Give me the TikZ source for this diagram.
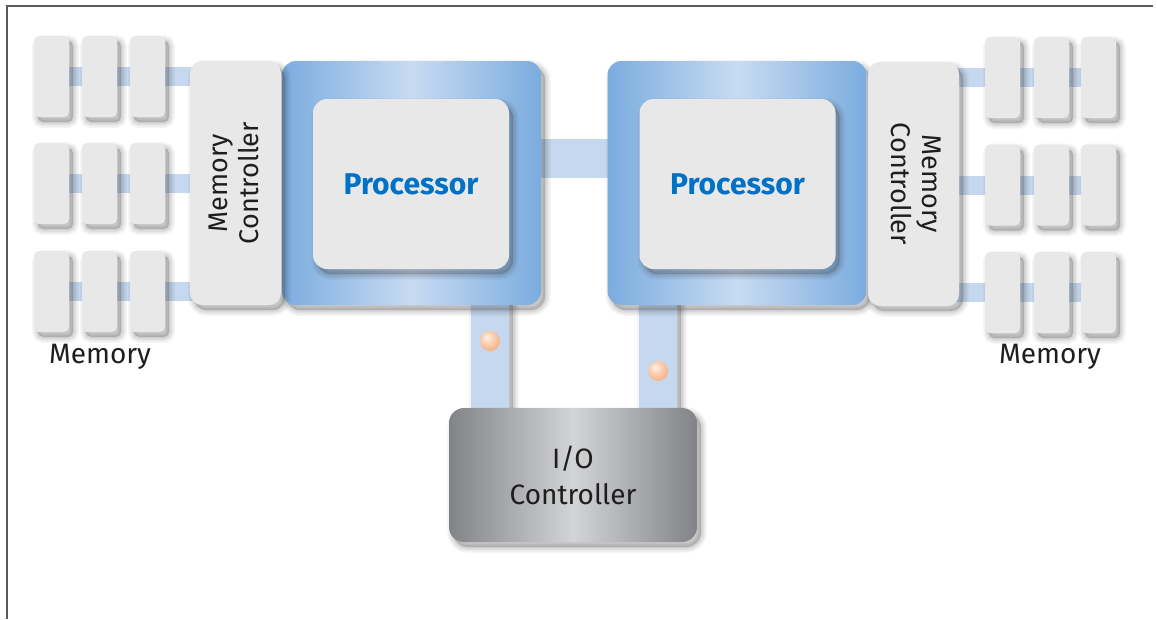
\documentclass[tikz,border=0pt]{standalone}
\usepackage{fontspec}
\setmainfont{Fira Sans}
\usetikzlibrary{calc}
\pgfdeclarelayer{bottom}
\pgfdeclarelayer{background}
\pgfsetlayers{bottom,background,main}
\definecolor{memgray}{HTML}{E8E8E8}
\definecolor{barblue}{HTML}{C5D8EF}
\definecolor{procedge}{HTML}{7BACDF}
\definecolor{procmid}{HTML}{C8DBF2}
\definecolor{intelblue}{HTML}{0071C5}
\definecolor{ioedge}{HTML}{828387}
\definecolor{iomid}{HTML}{D3D4D6}
\definecolor{txt}{HTML}{1E1E1E}
\definecolor{frame}{HTML}{5A5A5A}
\definecolor{peach}{HTML}{F6A46A}
\definecolor{shadowc}{HTML}{303030}
\pgfdeclareradialshading{peachball}{\pgfpoint{-8bp}{10bp}}{%
  color(0bp)=(white!85!peach); color(12bp)=(peach!45); color(30bp)=(peach!85); color(50bp)=(peach!95); color(60bp)=(peach)}
\tikzset{
  shl/.style={preaction={draw=shadowc,opacity=#1,transform canvas={xshift=4pt,yshift=-5pt}}},
  softshadow/.style={
    preaction={fill=shadowc,opacity=.22,transform canvas={xshift=4pt,yshift=-5pt}},
    preaction={draw=shadowc,opacity=.07,line width=3pt,transform canvas={xshift=4pt,yshift=-5pt}},
    preaction={draw=shadowc,opacity=.06,line width=6pt,transform canvas={xshift=4pt,yshift=-5pt}},
    preaction={draw=shadowc,opacity=.05,line width=9pt,transform canvas={xshift=4pt,yshift=-5pt}},
    preaction={draw=shadowc,opacity=.04,line width=12pt,transform canvas={xshift=4pt,yshift=-5pt}}},
  membox/.style={fill=memgray,rounded corners=5pt,minimum width=35pt,minimum height=81pt,inner sep=0pt,softshadow},
  mcbox/.style={fill=memgray,rounded corners=12pt,minimum width=91pt,minimum height=244pt,inner sep=0pt,softshadow,
     font=\fontsize{27}{35}\selectfont,text=txt,align=center},
  procouter/.style={rounded corners=14pt,minimum width=259pt,minimum height=244pt,inner sep=0pt,
     left color=procedge,right color=procedge,middle color=procmid,softshadow},
  procinner/.style={fill=memgray,rounded corners=14pt,minimum width=196pt,minimum height=170pt,inner sep=0pt,softshadow,
     font=\fontsize{30}{36}\selectfont\bfseries,text=intelblue},
  iobox/.style={rounded corners=15pt,minimum width=248pt,minimum height=134pt,inner sep=0pt,
     left color=ioedge,right color=ioedge,middle color=iomid,softshadow,
     font=\fontsize{28}{36}\selectfont,text=txt,align=center},
  hbar/.style={draw=barblue,line width=19pt},
  busbar/.style={draw=barblue,line width=39pt},
  vlink/.style={fill=barblue},
  ballnode/.style={circle,inner sep=0pt,minimum size=20pt,shading=peachball},
  memlabel/.style={font=\fontsize{28}{30}\selectfont,text=txt},
}
\begin{document}
\begin{tikzpicture}[x=1pt,y=-1pt]
\useasboundingbox (0,0) rectangle (1157,619);
\begin{pgfonlayer}{bottom}
\fill[white] (0,0) rectangle (1157,619);
\end{pgfonlayer}
\draw[frame,line width=1.5pt] (7,619) -- (7,6) -- (1153,6);

% memory modules left
\foreach \r/\y in {1/76.5,2/183.5,3/291.5}{
  \foreach \c/\x in {1/51.5,2/99.5,3/147.5}{
    \node[membox] (L\r\c) at (\x,\y) {};
  }
}
% memory modules right
\foreach \r/\y in {1/77.5,2/185,3/292.5}{
  \foreach \c/\x in {1/1002.5,2/1051.5,3/1098.5}{
    \node[membox] (R\r\c) at (\x,\y) {};
  }
}

% processors
\node[procouter] (pL) at (411.5,183) {};
\node[procouter] (pR) at (737,183) {};
\node[procinner] (piL) at (411,184) {Processor};
\node[procinner] (piR) at (737.5,184) {Processor};

% memory controllers
\node[mcbox] (mcL) at (235.5,183) {\rotatebox{90}{\begin{tabular}{@{}c@{}}Memory\\[-4pt]Controller\end{tabular}}};
\node[mcbox] (mcR) at (913.5,184) {\rotatebox{-90}{\begin{tabular}{@{}c@{}}Memory\\[-4pt]Controller\end{tabular}}};

% I/O controller
\node[iobox] (io) at (573,475) {I/O\\Controller};

% labels
\node[memlabel] (memL) at (100,357) {Memory};
\node[memlabel] (memR) at (1050,357) {Memory};

% connectors in background
\begin{pgfonlayer}{background}
  \foreach \r in {1,2,3}{
    \draw[hbar] (L\r1.center) -- (L\r1.center -| mcL.center);
    \draw[hbar] (R\r3.center) -- (R\r3.center -| mcR.center);
  }
  \draw[busbar] (pL.center |- 0,158.5) -- (pR.center |- 0,158.5);
  \fill[vlink,softshadow] ($(pL.south)+(59.5,-5)$) rectangle ($(io.north -| pL.south)+(97.5,5)$);
  \fill[vlink,softshadow] ($(pR.south)+(-98,-5)$) rectangle ($(io.north -| pR.south)+(-60,5)$);
\end{pgfonlayer}

% balls on links
\node[ballnode] (bL) at (490,341) {};
\node[ballnode] (bR) at (658,371) {};
\end{tikzpicture}
\end{document}
